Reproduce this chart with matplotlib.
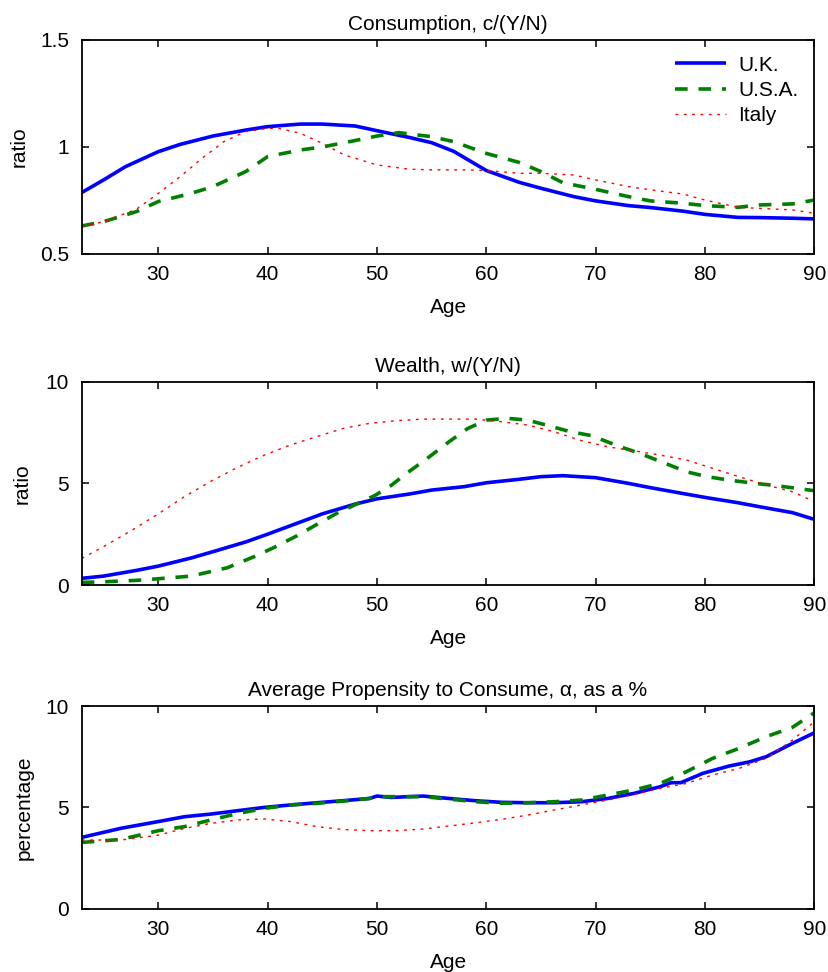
import matplotlib
matplotlib.use("Agg")
import matplotlib.pyplot as plt
import numpy as np

plt.rcParams['font.family'] = ['Liberation Sans', 'DejaVu Sans']

# ---------------- data ----------------
# Consumption c/(Y/N)
cons_uk_age = [23, 25, 27, 30, 32, 35, 38, 40, 43, 45, 48, 50, 53, 55, 57, 60, 63, 65, 68, 70, 73, 75, 78, 80, 83, 85, 88, 90]
cons_uk = [0.787, 0.846, 0.908, 0.978, 1.012, 1.051, 1.079, 1.095, 1.107, 1.107, 1.098, 1.076, 1.044, 1.02, 0.98, 0.89, 0.835, 0.807, 0.768, 0.748, 0.726, 0.717, 0.70, 0.685, 0.671, 0.67, 0.667, 0.664]
cons_usa_age = [23, 25, 28, 30, 33, 35, 38, 40, 43, 45, 48, 50, 52, 55, 57, 60, 63, 65, 67, 70, 73, 75, 78, 80, 83, 85, 88, 90]
cons_usa = [0.631, 0.651, 0.698, 0.745, 0.783, 0.815, 0.885, 0.955, 0.986, 1.0, 1.03, 1.051, 1.067, 1.048, 1.025, 0.97, 0.928, 0.885, 0.833, 0.802, 0.768, 0.748, 0.737, 0.726, 0.718, 0.729, 0.734, 0.752]
cons_ita_age = [23, 25, 28, 30, 32, 34, 36, 38, 40, 41, 43, 45, 47, 50, 53, 55, 58, 60, 63, 65, 68, 70, 73, 75, 78, 80, 83, 85, 88, 90]
cons_ita = [0.628, 0.651, 0.709, 0.783, 0.861, 0.947, 1.025, 1.072, 1.087, 1.087, 1.064, 1.017, 0.963, 0.916, 0.896, 0.893, 0.893, 0.89, 0.877, 0.877, 0.869, 0.846, 0.815, 0.80, 0.78, 0.752, 0.718, 0.713, 0.706, 0.69]

# Wealth w/(Y/N)
wea_uk_age = [23, 25, 28, 30, 33, 35, 38, 40, 43, 45, 48, 50, 53, 55, 58, 60, 63, 65, 67, 70, 73, 75, 78, 80, 83, 85, 88, 90]
wea_uk = [0.33, 0.44, 0.72, 0.93, 1.33, 1.64, 2.12, 2.5, 3.1, 3.5, 3.98, 4.24, 4.48, 4.67, 4.84, 5.03, 5.2, 5.33, 5.38, 5.28, 5.0, 4.79, 4.5, 4.31, 4.05, 3.85, 3.56, 3.23]
wea_usa_age = [23, 25, 28, 30, 33, 36.3, 38.7, 40.6, 42.6, 44.5, 46.4, 48.4, 49.8, 51.3, 52.7, 54.6, 56.6, 58.3, 60, 61.9, 63.8, 65.8, 67.7, 69.6, 72, 74, 76.4, 78.3, 80.2, 82.2, 84.6, 86.5, 90]
wea_usa = [0.13, 0.16, 0.23, 0.31, 0.44, 0.85, 1.38, 1.85, 2.4, 2.98, 3.55, 4.05, 4.4, 4.9, 5.49, 6.23, 7.05, 7.7, 8.11, 8.2, 8.11, 7.82, 7.54, 7.35, 6.85, 6.48, 5.98, 5.57, 5.33, 5.16, 5.0, 4.89, 4.64]
wea_ita_age = [23, 25.2, 27.6, 30, 32.4, 34.8, 37.3, 39.7, 42.1, 44.5, 46.9, 49.3, 51.7, 54.2, 56.6, 59, 61.4, 63.8, 66.2, 68.7, 71.1, 73.5, 75.9, 78.3, 80.7, 83.1, 85.6, 88, 90]
wea_ita = [1.31, 1.95, 2.7, 3.5, 4.35, 5.1, 5.8, 6.39, 6.89, 7.3, 7.7, 7.95, 8.08, 8.16, 8.16, 8.16, 8.03, 7.87, 7.54, 7.1, 6.8, 6.6, 6.39, 6.15, 5.74, 5.33, 4.92, 4.59, 4.1]

# Average propensity to consume, %
apc_age = [23, 26.6, 30, 32.4, 34.8, 37.3, 39.7, 42.1, 44.5, 46.9, 49.3, 50, 51.3, 54.2, 56.6, 59, 61.4, 63.8, 66.2, 68.7, 71.1, 73.5, 75.9, 76.9, 77.8, 79.8, 82.2, 84.1, 85.6, 88, 90]
apc_uk = [3.52, 3.97, 4.3, 4.54, 4.67, 4.84, 5.0, 5.12, 5.23, 5.33, 5.44, 5.56, 5.49, 5.56, 5.44, 5.33, 5.25, 5.23, 5.23, 5.28, 5.44, 5.69, 6.02, 6.22, 6.22, 6.68, 7.04, 7.25, 7.5, 8.16, 8.68]
apc_usa_age = [23, 26.6, 30, 32.4, 34.8, 37.3, 39.7, 42.1, 44.5, 46.9, 49.3, 50, 52.2, 54.2, 56.6, 59, 61.4, 63.8, 66.2, 68.7, 71.1, 73.5, 75.9, 78.3, 80.7, 83.1, 85.6, 88, 90]
apc_usa = [3.27, 3.42, 3.85, 4.05, 4.38, 4.7, 4.95, 5.12, 5.2, 5.31, 5.44, 5.53, 5.53, 5.53, 5.41, 5.28, 5.2, 5.23, 5.28, 5.36, 5.61, 5.86, 6.18, 6.76, 7.42, 7.91, 8.49, 8.95, 9.67]
apc_ita_age = [23, 26.6, 30, 32.4, 34.8, 37.3, 39.7, 42.1, 44.5, 46.9, 49.3, 51.7, 54.2, 56.6, 59, 61.4, 63.8, 66.2, 68.7, 71.1, 73.5, 75.9, 78.3, 80.7, 83.1, 85.6, 88, 90]
apc_ita = [3.39, 3.39, 3.63, 3.96, 4.21, 4.38, 4.43, 4.3, 4.05, 3.91, 3.85, 3.85, 3.93, 4.08, 4.24, 4.41, 4.62, 4.87, 5.12, 5.36, 5.64, 5.94, 6.18, 6.6, 6.92, 7.42, 8.32, 9.23]

labels = ["U.K.", "U.S.A.", "Italy"]
titles = ["Consumption, c/(Y/N)", "Wealth, w/(Y/N)", "Average Propensity to Consume, \u03b1, as a %"]
ylabels = ["ratio", "ratio", "percentage"]
xticks = [30, 40, 50, 60, 70, 80, 90]
yticks_list = [[0.5, 1, 1.5], [0, 5, 10], [0, 5, 10]]
ytick_labels = [["0.5", "1", "1.5"], ["0", "5", "10"], ["0", "5", "10"]]
ylims = [(0.5, 1.5), (0, 10), (0, 10)]

panels = [
    [(cons_uk_age, cons_uk), (cons_usa_age, cons_usa), (cons_ita_age, cons_ita)],
    [(wea_uk_age, wea_uk), (wea_usa_age, wea_usa), (wea_ita_age, wea_ita)],
    [(apc_age, apc_uk), (apc_usa_age, apc_usa), (apc_ita_age, apc_ita)],
]

styles = [
    dict(color=(0, 0, 1), lw=2.6, ls='-'),
    dict(color=(0, 0.5, 0), lw=2.6, ls=(0, (3.5, 3))),
    dict(color=(1, 0, 0), lw=1.0, ls=(0, (2, 4))),
]

FS = 15
fig = plt.figure(figsize=(8.29, 9.72), dpi=100)
left, width = 0.0986, 0.8837
positions = [
    [left, 0.7387, width, 0.2202],
    [left, 0.3981, width, 0.2092],
    [left, 0.0651, width, 0.2085],
]
heights_px = [214, 203, 203]
ylabel_x = [-0.072, -0.068, -0.066]

for i in range(3):
    ax = fig.add_axes(positions[i])
    for (x, y), st, lab in zip(panels[i], styles, labels):
        ax.plot(x, y, label=lab, solid_capstyle='butt', dash_capstyle='butt', **st)
    ax.set_xlim(23, 90)
    ax.set_ylim(*ylims[i])
    ax.set_xticks(xticks)
    ax.set_xticklabels([str(t) for t in xticks], fontsize=FS)
    ax.set_yticks(yticks_list[i])
    ax.set_yticklabels(ytick_labels[i], fontsize=FS)
    ax.tick_params(direction='in', length=5, width=1.1, top=True, right=True)
    ax.tick_params(axis='x', pad=8)
    ax.tick_params(axis='y', pad=9)
    for sp in ax.spines.values():
        sp.set_linewidth(1.3)
    ax.set_title(titles[i], fontsize=FS, pad=7)
    ax.set_xlabel("Age", fontsize=FS)
    ax.set_ylabel(ylabels[i], fontsize=FS)
    ax.yaxis.set_label_coords(ylabel_x[i], 0.5)
    ax.xaxis.set_label_coords(0.5, -44.0 / heights_px[i])
    if i == 0:
        ax.legend(loc='upper right', frameon=False, fontsize=FS, handlelength=2.45,
                  handletextpad=0.6, labelspacing=0.3, borderaxespad=0.35)

fig.savefig("out.png", dpi=100)
